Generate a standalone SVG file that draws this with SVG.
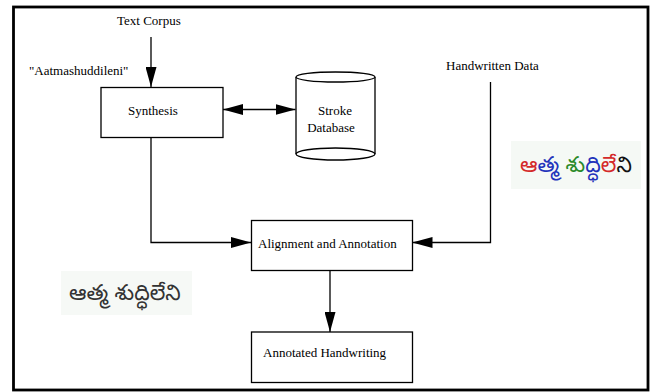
<svg xmlns="http://www.w3.org/2000/svg" width="650" height="392" viewBox="0 0 650 392">
<defs>
<style>
.t{font-family:"Liberation Serif","Times New Roman",serif;font-size:13px;fill:#000}
.box{fill:#fff;stroke:#000;stroke-width:1.3}
.ln{fill:none;stroke:#000;stroke-width:1.3}
.tel{font-family:"Noto Sans Telugu","Noto Sans","DejaVu Sans",sans-serif;font-size:22px}
</style>
<marker id="ah" viewBox="0 0 20 11" refX="20" refY="5.5" markerWidth="20" markerHeight="11" markerUnits="userSpaceOnUse" orient="auto-start-reverse">
<path d="M0,0 L20,5.5 L0,11 Z" fill="#000"/>
</marker>
</defs>
<rect x="0" y="0" width="650" height="392" fill="#fff"/>
<rect x="13.5" y="7" width="634.5" height="383" fill="none" stroke="#000" stroke-width="2.8"/>

<g id="connectors">
<line class="ln" x1="151" y1="37" x2="151" y2="87" marker-end="url(#ah)"/>
<line class="ln" x1="223" y1="109.5" x2="295.5" y2="109.5" marker-start="url(#ah)" marker-end="url(#ah)"/>
<polyline class="ln" points="151,137 151,242.5 251,242.5" marker-end="url(#ah)"/>
<polyline class="ln" points="490.5,82 490.5,242.5 412.5,242.5" marker-end="url(#ah)"/>
<line class="ln" x1="330" y1="270" x2="330" y2="332" marker-end="url(#ah)"/>
</g>

<g id="text-corpus"><text class="t" x="117" y="25">Text Corpus</text></g>
<g id="input-word"><text class="t" x="29" y="75">"Aatmashuddileni"</text></g>
<g id="synthesis">
<rect class="box" x="101" y="87.5" width="122" height="50"/>
<text class="t" x="128" y="114.5">Synthesis</text>
</g>
<g id="stroke-database">
<path class="box" d="M296,77 L296,154 A39.5,6 0 0 0 375,154 L375,77"/>
<ellipse class="box" cx="335.5" cy="77" rx="39.5" ry="5"/>
<path class="ln" d="M296,154 A39.5,6 0 0 1 375,154"/>
<text class="t" x="335" y="115" text-anchor="middle">Stroke</text>
<text class="t" x="331" y="132" text-anchor="middle">Database</text>
</g>
<g id="handwritten-data"><text class="t" x="446" y="70">Handwritten Data</text></g>
<g id="alignment">
<rect class="box" x="251.5" y="220.5" width="161" height="50"/>
<text class="t" x="258" y="248">Alignment and Annotation</text>
</g>
<g id="annotated">
<rect class="box" x="251.5" y="332" width="161" height="50.5"/>
<text class="t" x="263" y="357">Annotated Handwriting</text>
</g>
<g id="colored-handwriting">
<rect x="511" y="141" width="130" height="48" fill="#f5f9f5"/>
<text class="tel" x="520" y="172"><tspan fill="#d42a2a">ఆ</tspan><tspan fill="#2233bb">త్మ</tspan> <tspan fill="#2a8a2a">శు</tspan><tspan fill="#2233bb">ద్ధి</tspan><tspan fill="#d42a2a">లే</tspan><tspan fill="#111">ని</tspan></text>
</g>
<g id="gray-handwriting">
<rect x="61" y="271" width="131" height="44" fill="#f6f9f6"/>
<text class="tel" x="69" y="300" fill="#333">ఆత్మ శుద్ధిలేని</text>
</g>
</svg>
